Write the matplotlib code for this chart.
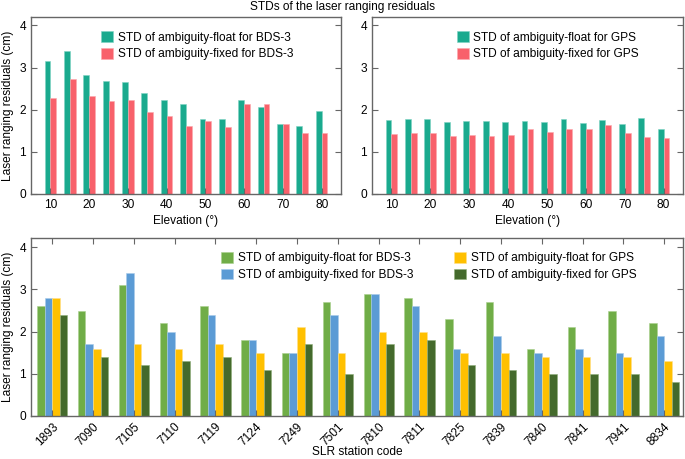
import matplotlib
matplotlib.use("Agg")
import matplotlib.pyplot as plt
import numpy as np

plt.rcParams['font.family'] = ['Liberation Sans', 'DejaVu Sans']

elev = [10, 15, 20, 25, 30, 35, 40, 45, 50, 55, 60, 65, 70, 75, 80]
bds_float = [3.15, 3.40, 2.82, 2.68, 2.66, 2.40, 2.22, 2.13, 1.77, 1.78, 2.24, 2.07, 1.65, 1.61, 1.97]
bds_fixed = [2.28, 2.73, 2.33, 2.20, 2.22, 1.94, 1.86, 1.62, 1.74, 1.60, 2.14, 2.14, 1.66, 1.45, 1.45]
gps_float = [1.76, 1.78, 1.78, 1.71, 1.74, 1.74, 1.70, 1.73, 1.71, 1.78, 1.69, 1.75, 1.66, 1.80, 1.55]
gps_fixed = [1.43, 1.44, 1.44, 1.37, 1.41, 1.38, 1.39, 1.54, 1.46, 1.55, 1.55, 1.63, 1.45, 1.35, 1.34]

stations = ['1893', '7090', '7105', '7110', '7119', '7124', '7249', '7501',
            '7810', '7811', '7825', '7839', '7840', '7841', '7941', '8834']
st_bds_float = [2.6, 2.5, 3.1, 2.2, 2.6, 1.8, 1.5, 2.7, 2.9, 2.8, 2.3, 2.7, 1.6, 2.1, 2.5, 2.2]
st_bds_fixed = [2.8, 1.7, 3.4, 2.0, 2.4, 1.8, 1.5, 2.4, 2.9, 2.6, 1.6, 1.9, 1.5, 1.6, 1.5, 1.9]
st_gps_float = [2.8, 1.6, 1.7, 1.6, 1.7, 1.5, 2.1, 1.5, 2.0, 2.0, 1.5, 1.5, 1.4, 1.4, 1.4, 1.3]
st_gps_fixed = [2.4, 1.4, 1.2, 1.3, 1.4, 1.1, 1.7, 1.0, 1.7, 1.8, 1.2, 1.1, 1.0, 1.0, 1.0, 0.8]

TEAL = '#1aaa8e'
SALMON = '#f8616b'
C_GREEN = '#70ad47'
C_BLUE = '#5b9bd5'
C_YELLOW = '#ffc000'
C_DKGREEN = '#446a2c'
SPINE = '#666666'
FS = 8.6

W, H = 685, 459
fig = plt.figure(figsize=(W / 100, H / 100), dpi=100)


def px_axes(l, t, r, b):
    return fig.add_axes([l / W, 1 - b / H, (r - l) / W, (b - t) / H])


def style(ax):
    for s in ax.spines.values():
        s.set_color(SPINE)
        s.set_linewidth(1.0)
    ax.tick_params(direction='in', colors=SPINE, labelcolor='black',
                   labelsize=FS, length=4, width=0.8)


fig.text(0.5, 1 - 7 / H, 'STDs of the laser ranging residuals', ha='center', va='center', fontsize=FS)

ax1 = px_axes(31, 17, 341, 194)
ax2 = px_axes(372, 17, 683, 194)
bw = 1.5
for ax, f, x, lab in [(ax1, bds_float, bds_fixed, 'BDS-3'), (ax2, gps_float, gps_fixed, 'GPS')]:
    e = np.array(elev, dtype=float)
    ax.bar(e - bw / 2, f, width=bw, color=TEAL, edgecolor='#7fd3c3', linewidth=0.4,
           label='STD of ambiguity-float for ' + lab)
    ax.bar(e + bw / 2, x, width=bw, color=SALMON, edgecolor='#fba8ad', linewidth=0.4,
           label='STD of ambiguity-fixed for ' + lab)
    ax.set_xlim(5, 85)
    ax.set_ylim(0, 4.2)
    ax.set_xticks([10, 20, 30, 40, 50, 60, 70, 80])
    ax.set_yticks([0, 1, 2, 3, 4])
    style(ax)
    ax.tick_params(axis='y', right=True)
    ax.set_xlabel('Elevation (°)', fontsize=FS, labelpad=3)
    ax.legend(loc='upper left', bbox_to_anchor=(0.2 if ax is ax1 else 0.245, 0.967), frameon=False,
              fontsize=FS, handlelength=1.0, handleheight=1.0, handletextpad=0.4,
              labelspacing=0.35, borderaxespad=0.3)
ax1.set_ylabel('Laser ranging residuals (cm)', fontsize=FS, labelpad=4)

ax3 = px_axes(31, 238, 683, 416)
idx = np.arange(len(stations))
bw2 = 0.185
series = [(st_bds_float, C_GREEN, '#a9d18e', 'STD of ambiguity-float for BDS-3'),
          (st_bds_fixed, C_BLUE, '#a9cbea', 'STD of ambiguity-fixed for BDS-3'),
          (st_gps_float, C_YELLOW, '#ffe08a', 'STD of ambiguity-float for GPS'),
          (st_gps_fixed, C_DKGREEN, '#8fae79', 'STD of ambiguity-fixed for GPS')]
for k, (vals, c, ec, lab) in enumerate(series):
    ax3.bar(idx + (k - 1.5) * bw2, vals, width=bw2, color=c, edgecolor=ec, linewidth=0.4, label=lab)
ax3.set_xlim(-0.52, 15.46)
ax3.set_ylim(0, 4.22)
ax3.set_yticks([0, 1, 2, 3, 4])
ax3.set_xticks(idx)
ax3.set_xticklabels(stations, rotation=45, ha='right', rotation_mode='anchor')
style(ax3)
ax3.tick_params(axis='y', right=True)
ax3.tick_params(axis='x', top=True)
ax3.set_ylabel('Laser ranging residuals (cm)', fontsize=FS, labelpad=4)
fig.text((31 + 683) / 2 / W, 1 - 452 / H, 'SLR station code', ha='center', va='center', fontsize=FS)
ax3.legend(loc='upper left', bbox_to_anchor=(0.279, 0.968), ncol=2, frameon=False, fontsize=FS,
           handlelength=1.0, handleheight=1.0, handletextpad=0.4, labelspacing=0.35,
           columnspacing=3.4, borderaxespad=0.3)

fig.savefig('out.png', dpi=100)
